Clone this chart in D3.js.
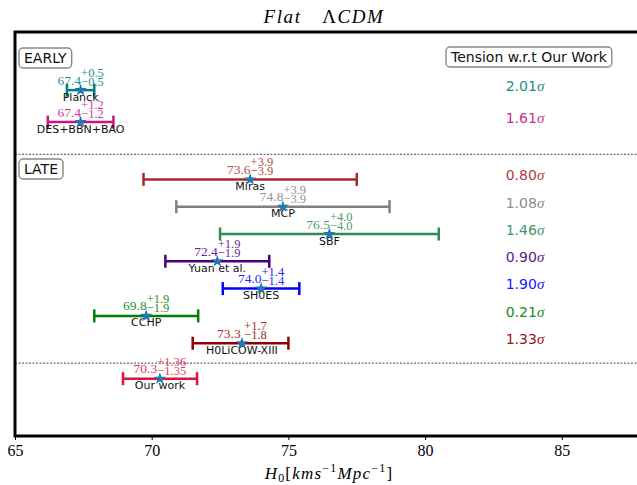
<!DOCTYPE html>
<html>
<head>
<meta charset="utf-8">
<script src="https://cdn.jsdelivr.net/npm/d3@7"></script>
<style>
  body { margin: 0; background: #fff; }
  svg { display: block; }
</style>
</head>
<body>
<svg></svg>
<script>
// measurements of H0
const names = ["Planck", "DES+BBN+BAO", "Miras", "MCP", "SBF", "Yuan et al.", "SH0ES", "CCHP", "H0LiCOW-XIII", "Our work"];
const h0 = [67.4, 67.4, 73.6, 74.8, 76.5, 72.4, 74.0, 69.8, 73.3, 70.3];
const errUp = [0.5, 1.2, 3.9, 3.9, 4.0, 1.9, 1.4, 1.9, 1.7, 1.36];
const errDown = [0.5, 1.2, 3.9, 3.9, 4.0, 1.9, 1.4, 1.9, 1.8, 1.35];
const rowY = [12.27, 11.1, 9, 8, 7, 6, 5, 4, 3, 1.7];
const colors = ["teal", "mediumvioletred", "brown", "grey", "seagreen", "indigo", "blue", "green", "darkred", "crimson"];
const tension = ["2.01", "1.61", "0.80", "1.08", "1.46", "0.90", "1.90", "0.21", "1.33"];
const dividers = [9.92, 2.27];
const xTicks = [65, 70, 75, 80, 85];

const width = 637, height = 485;
const svg = d3.select('svg').attr('width', width).attr('height', height);
const margin = { top: 32, bottom: 436, left: 15 };

const xScale = d3.scaleLinear().domain([65, 88]).range([margin.left, margin.left + 23 * 27.34]);
const yScale = d3.scaleLinear().domain([-0.4, 14.4]).range([margin.bottom, margin.top]);

const serif = "'Liberation Serif', 'DejaVu Serif', serif";
const sans = "'DejaVu Sans', sans-serif";

const fmt = v => v.toFixed(Math.abs(Math.round(v * 10) - v * 10) > 1e-6 ? 2 : 1);

// dashed separators
svg.selectAll('.sep').data(dividers).enter().append('line')
    .attr('class', 'sep')
    .attr('x1', margin.left).attr('x2', width)
    .attr('y1', d => yScale(d)).attr('y2', d => yScale(d))
    .attr('stroke', '#444').attr('stroke-width', 1).attr('stroke-dasharray', '2,1.5');

// x axis
const xAxis = d3.axisBottom(xScale).tickValues(xTicks).tickSize(4).tickPadding(5).tickFormat(d3.format('d'));
const gx = svg.append('g').attr('transform', `translate(0,${margin.bottom})`).call(xAxis);
gx.select('.domain').remove();
gx.selectAll('line').attr('stroke', '#000').attr('stroke-width', 1);
gx.selectAll('text').attr('font-family', serif).attr('font-size', 16).attr('fill', '#000');

// frame
svg.append('rect')
    .attr('x', margin.left).attr('y', margin.top)
    .attr('width', xScale(88) - margin.left).attr('height', margin.bottom - margin.top)
    .attr('fill', 'none').attr('stroke', '#000').attr('stroke-width', 3);

// error bars
const rows = svg.selectAll('.row').data(h0).enter().append('g')
    .attr('class', 'row')
    .attr('transform', (d, i) => `translate(0,${yScale(rowY[i])})`);

rows.append('line')
    .attr('x1', (d, i) => xScale(d - errDown[i]))
    .attr('x2', (d, i) => xScale(d + errUp[i]))
    .attr('stroke', (d, i) => colors[i]).attr('stroke-width', 2.5);
[-1, 1].forEach(s => {
    rows.append('line')
        .attr('x1', (d, i) => xScale(s < 0 ? d - errDown[i] : d + errUp[i]))
        .attr('x2', (d, i) => xScale(s < 0 ? d - errDown[i] : d + errUp[i]))
        .attr('y1', -6.5).attr('y2', 6.5)
        .attr('stroke', (d, i) => colors[i]).attr('stroke-width', 2.5);
});

// names under the bars
rows.append('text')
    .attr('x', d => xScale(d)).attr('y', 10.5)
    .attr('text-anchor', 'middle')
    .attr('font-family', sans).attr('font-size', 11).attr('fill', '#111')
    .text((d, i) => names[i]);

// value labels with stacked errors
rows.each(function (d, i) {
    const g = d3.select(this).append('g').attr('fill', colors[i]).attr('opacity', 0.85)
        .attr('font-family', serif);
    const main = g.append('text').attr('y', -5.5).attr('font-size', 13.5)
        .text(fmt(d) + (names[i] === 'H0LiCOW-XIII' ? '\u00a0' : ''));
    const up = g.append('text').attr('y', -13).attr('font-size', 12.5).text('+' + fmt(errUp[i]));
    const dn = g.append('text').attr('y', -4).attr('font-size', 12.5).text('\u2212' + fmt(errDown[i]));
    const mw = main.node().getComputedTextLength();
    const sw = Math.max(up.node().getComputedTextLength(), dn.node().getComputedTextLength());
    const x0 = xScale(d) - (mw + sw) / 2;
    main.attr('x', x0);
    up.attr('x', x0 + mw);
    dn.attr('x', x0 + mw);
});

// star markers on top
rows.append('path')
    .attr('d', d3.symbol(d3.symbolStar, 48))
    .attr('transform', d => `translate(${xScale(d)},0)`)
    .attr('fill', '#1f77b4');

// tension column
const tens = svg.selectAll('.tension').data(tension).enter().append('text')
    .attr('class', 'tension')
    .attr('x', 525).attr('y', (d, i) => yScale(rowY[i]) - 4)
    .attr('dy', '0.35em')
    .attr('text-anchor', 'middle')
    .attr('font-family', sans).attr('font-size', 14)
    .attr('fill', (d, i) => colors[i]).attr('opacity', 0.9);
tens.append('tspan').text(d => d);
tens.append('tspan').attr('font-family', serif).attr('font-style', 'italic').attr('font-size', 15).text('\u03c3');

// boxed labels
const boxes = [
    { text: 'EARLY', x: 19, y: 48 },
    { text: 'LATE', x: 19, y: 159 },
    { text: 'Tension w.r.t Our Work', x: 446, y: 47 }
];
boxes.forEach(b => {
    const g = svg.append('g');
    const t = g.append('text')
        .attr('x', b.x + 5).attr('y', b.y + 15)
        .attr('font-family', sans).attr('font-size', 14).attr('fill', '#111')
        .text(b.text);
    const w = t.node().getComputedTextLength();
    g.insert('rect', 'text')
        .attr('x', b.x).attr('y', b.y).attr('width', w + 10).attr('height', 20)
        .attr('rx', 4).attr('fill', '#fff').attr('stroke', '#888').attr('stroke-width', 1.4);
});

// title
const title = svg.append('text')
    .attr('x', 324).attr('y', 23).attr('text-anchor', 'middle')
    .attr('font-family', serif).attr('font-size', 19).attr('letter-spacing', 1.6).attr('fill', '#000');
title.append('tspan').attr('font-style', 'italic').text('Flat');
title.append('tspan').text('\u2003\u039b');
title.append('tspan').attr('font-style', 'italic').text('CDM');

// x label
const xl = svg.append('text')
    .attr('x', 329).attr('y', 479).attr('text-anchor', 'middle')
    .attr('font-family', serif).attr('font-size', 17).attr('letter-spacing', 1.2).attr('fill', '#000');
xl.append('tspan').attr('font-style', 'italic').text('H');
xl.append('tspan').attr('font-size', 12).attr('dy', 3).text('0');
xl.append('tspan').attr('dy', -3).text('[');
xl.append('tspan').attr('font-style', 'italic').text('kms');
xl.append('tspan').attr('font-size', 12).attr('dy', -7).text('\u22121');
xl.append('tspan').attr('font-style', 'italic').attr('dy', 7).text('Mpc');
xl.append('tspan').attr('font-size', 12).attr('dy', -7).text('\u22121');
xl.append('tspan').attr('dy', 7).text(']');
</script>
</body>
</html>
